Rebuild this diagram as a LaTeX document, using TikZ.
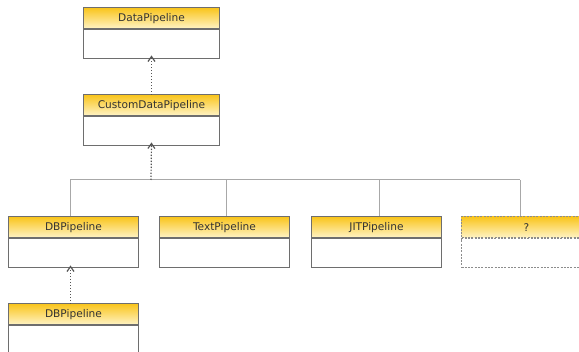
\documentclass[tikz,border=0pt]{standalone}
\usepackage{fontspec}
\setmainfont{DejaVu Sans}
\usetikzlibrary{arrows.meta}
\definecolor{hdtop}{HTML}{F9C41A}
\definecolor{hdbot}{HTML}{FFF4C8}
\definecolor{boxline}{HTML}{6E6E6E}
\definecolor{treeline}{HTML}{A8A8A8}
\definecolor{dotline}{HTML}{555555}
\definecolor{qline}{HTML}{8C8C8C}
\definecolor{txt}{HTML}{333333}
\tikzset{
  hdr/.style={draw=boxline, line width=1pt, top color=hdtop, bottom color=hdbot,
    minimum width=130pt, minimum height=21.5pt, inner sep=0pt, anchor=north west,
    font=\fontsize{10.6}{12}\selectfont, text=txt},
  bdy/.style={draw=boxline, line width=1pt, fill=white, minimum width=130pt,
    minimum height=29pt, inner sep=0pt, anchor=north},
  hdrq/.style={hdr, draw=qline, dash pattern=on 2pt off 1.3pt},
  bdyq/.style={bdy, draw=qline, dash pattern=on 2pt off 1.3pt},
  realize/.style={draw=dotline, line width=1.2pt, dash pattern=on 1.3pt off 1.7pt,
    -{Straight Barb[length=5pt,width=7pt,line width=1.2pt]}},
  tree/.style={draw=treeline, line width=1pt}
}
\begin{document}
\begin{tikzpicture}[x=1pt,y=-1pt]
\useasboundingbox (0,0) rectangle (579,352);
\clip (0,0) rectangle (579,352);
% classes
\node[hdr, minimum width=136pt] (dph) at (83,7) {DataPipeline};
\node[bdy, minimum width=136pt] (dp) at (dph.south) {};
\node[hdr, minimum width=136pt] (cdph) at (83,94) {CustomDataPipeline};
\node[bdy, minimum width=136pt] (cdp) at (cdph.south) {};
\node[hdr] (db1h) at (8,216) {DBPipeline};
\node[bdy] (db1) at (db1h.south) {};
\node[hdr] (txh) at (159,216) {TextPipeline};
\node[bdy] (tx) at (txh.south) {};
\node[hdr] (jith) at (311,216) {JITPipeline};
\node[bdy] (jit) at (jith.south) {};
\node[hdrq] (qh) at (461,216) {?};
\node[bdyq] (q) at (qh.south) {};
\node[hdr] (db2h) at (8,303) {DBPipeline};
\node[bdy] (db2) at (db2h.south) {};
% tree
\coordinate (hl) at (70,180);
\coordinate (hr) at (520,180);
\coordinate (hm) at (151,180);
\draw[tree] (hl) -- (hr);
\draw[tree] (hl) -- (hl |- db1h.north);
\draw[tree] (226,180) -- (226,216);
\draw[tree] (379,180) -- (379,216);
\draw[tree] (hr) -- (hr |- qh.north);
% realization arrows
\draw[realize] ([yshift=-1pt]cdph.north) -- ([yshift=4pt]dp.south);
\draw[realize] (hm) -- ([yshift=4pt]cdp.south);
\draw[realize] ([xshift=-3pt,yshift=-1pt]db2h.north) -- ([xshift=-3pt,yshift=3pt]db1.south);
\end{tikzpicture}
\end{document}
